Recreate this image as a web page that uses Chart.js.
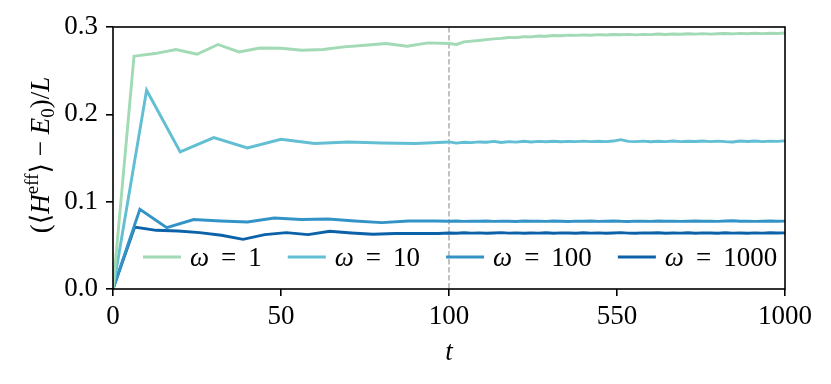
<!DOCTYPE html>
<html>
<head>
<meta charset="utf-8">
<script src="https://cdn.jsdelivr.net/npm/chart.js@4.4.1/dist/chart.umd.min.js"></script>
<style>
  html, body { margin: 0; padding: 0; background: #fff; }
  #wrap { width: 831px; height: 384px; }
</style>
</head>
<body>
<div id="wrap"><canvas id="chart" width="831" height="384"></canvas></div>
<script>
// ===== DATA =====
const legendLabels = ["1", "10", "100", "1000"];
const colors = ["#a1dab4", "#62bed3", "#3393c7", "#0b62a8"];

// early part, t < 100 (own sampling for each omega)
const tEarly1 = [0, 6.25, 12.5, 18.75, 25, 31.25, 37.5, 43.75, 50, 56.25, 62.5, 68.75, 75, 81.25, 87.5, 93.75];
const eEarly1 = [0, 0.2666, 0.2696, 0.2742, 0.2688, 0.2800, 0.2715, 0.2760, 0.2757, 0.2734, 0.2742, 0.2772, 0.2791, 0.2811, 0.2780, 0.2818];

const tEarly10 = [0, 10, 20, 30, 40, 50, 60, 70, 80, 90];
const eEarly10 = [0, 0.2276, 0.1570, 0.1734, 0.1615, 0.1715, 0.1666, 0.1684, 0.1672, 0.1666];

const tEarly100 = [0, 8, 16, 24, 32, 40, 48, 56, 64, 72, 80, 88, 96];
const eEarly100 = [0, 0.0913, 0.0703, 0.0795, 0.0779, 0.0767, 0.0813, 0.0795, 0.0802, 0.0779, 0.0760, 0.0779, 0.0779];

const tEarly1000 = [0, 6.45, 12.9, 19.35, 25.8, 32.25, 38.7, 45.15, 51.6, 58.05, 64.5, 70.95, 77.4, 83.85, 90.3, 96.75];
const eEarly1000 = [0, 0.0710, 0.0672, 0.0664, 0.0646, 0.0615, 0.0569, 0.0623, 0.0646, 0.0623, 0.0661, 0.0642, 0.0627, 0.0635, 0.0635, 0.0635];

// late part, 100 <= t <= 1000
const tLate = [100, 120, 140, 160, 180, 200, 220, 240, 260, 280,
               300, 320, 340, 360, 380, 400, 420, 440, 460, 480,
               500, 520, 540, 560, 580, 600, 620, 640, 660, 680,
               700, 720, 740, 760, 780, 800, 820, 840, 860, 880,
               900, 920, 940, 960, 980, 1000];

const eLate1 = [0.2811, 0.2800, 0.2830, 0.2838, 0.2845, 0.2856, 0.2864, 0.2870, 0.2880, 0.2878,
                0.2889, 0.2887, 0.2897, 0.2894, 0.2902, 0.2900, 0.2907, 0.2904, 0.2910, 0.2906,
                0.2913, 0.2909, 0.2914, 0.2911, 0.2916, 0.2910, 0.2915, 0.2913, 0.2919, 0.2915,
                0.2920, 0.2917, 0.2923, 0.2919, 0.2924, 0.2918, 0.2923, 0.2926, 0.2921, 0.2927,
                0.2923, 0.2928, 0.2924, 0.2929, 0.2926, 0.2931];

const eLate10 = [0.1684, 0.1670, 0.1680, 0.1676, 0.1684, 0.1680, 0.1690, 0.1678, 0.1688, 0.1682,
                 0.1692, 0.1684, 0.1690, 0.1686, 0.1692, 0.1686, 0.1690, 0.1688, 0.1693, 0.1687,
                 0.1691, 0.1688, 0.1694, 0.1710, 0.1690, 0.1688, 0.1693, 0.1686, 0.1692, 0.1688,
                 0.1694, 0.1687, 0.1692, 0.1689, 0.1695, 0.1688, 0.1693, 0.1687, 0.1684, 0.1694,
                 0.1689, 0.1695, 0.1687, 0.1693, 0.1690, 0.1696];

const eLate100 = [0.0775, 0.0778, 0.0774, 0.0777, 0.0775, 0.0779, 0.0774, 0.0777, 0.0776, 0.0773,
                  0.0778, 0.0775, 0.0777, 0.0774, 0.0778, 0.0776, 0.0773, 0.0777, 0.0775, 0.0778,
                  0.0774, 0.0776, 0.0779, 0.0775, 0.0773, 0.0777, 0.0776, 0.0774, 0.0778, 0.0775,
                  0.0777, 0.0774, 0.0776, 0.0779, 0.0775, 0.0777, 0.0774, 0.0778, 0.0782, 0.0775,
                  0.0777, 0.0774, 0.0776, 0.0778, 0.0775, 0.0777];

const eLate1000 = [0.0642, 0.0638, 0.0644, 0.0640, 0.0643, 0.0639, 0.0642, 0.0645, 0.0640, 0.0643,
                   0.0638, 0.0642, 0.0640, 0.0644, 0.0639, 0.0643, 0.0641, 0.0638, 0.0644, 0.0640,
                   0.0643, 0.0639, 0.0642, 0.0645, 0.0640, 0.0638, 0.0643, 0.0641, 0.0644, 0.0639,
                   0.0642, 0.0640, 0.0644, 0.0638, 0.0643, 0.0641, 0.0639, 0.0644, 0.0640, 0.0642,
                   0.0638, 0.0643, 0.0640, 0.0644, 0.0641, 0.0643];

const xTicks = [0, 50, 100, 550, 1000];
const yTicks = [0, 0.1, 0.2, 0.3];
const tBreak = 100;

// ===== BROKEN X AXIS =====
// 0..100 uses the left half, 100..1000 the right half
function warp(t){
    return t <= tBreak ? t : tBreak + (t - tBreak) / 9;
}
function unwarp(u){
    return u <= tBreak ? u : tBreak + (u - tBreak) * 9;
}

function makePoints(tE, eE, eL){
    const pts = [];
    tE.forEach((t, i) => pts.push({ x: warp(t), y: eE[i] }));
    tLate.forEach((t, i) => pts.push({ x: warp(t), y: eL[i] }));
    return pts;
}

const series = [
    makePoints(tEarly1, eEarly1, eLate1),
    makePoints(tEarly10, eEarly10, eLate10),
    makePoints(tEarly100, eEarly100, eLate100),
    makePoints(tEarly1000, eEarly1000, eLate1000)
];

const SERIF = "'Liberation Serif', 'DejaVu Serif', serif";
const FS = 27;

// ===== PLUGIN: frame, dashed line, legend, titles =====
const decor = {
    id: 'decor',
    beforeDatasetsDraw(chart){
        const ctx = chart.ctx, a = chart.chartArea;
        const x = chart.scales.x.getPixelForValue(warp(tBreak));
        ctx.save();
        ctx.strokeStyle = '#b3b3b3';
        ctx.lineWidth = 1.6;
        ctx.setLineDash([5.5, 2.5]);
        ctx.beginPath();
        ctx.moveTo(x, a.top);
        ctx.lineTo(x, a.bottom);
        ctx.stroke();
        ctx.restore();
    },
    afterDatasetsDraw(chart){
        const ctx = chart.ctx, a = chart.chartArea;
        ctx.save();

        // frame
        ctx.strokeStyle = '#000';
        ctx.lineWidth = 1.6;
        ctx.strokeRect(a.left, a.top, a.right - a.left, a.bottom - a.top);

        // legend
        const ly = a.bottom - 32;
        let lx = a.left + 30;
        ctx.textBaseline = 'middle';
        chart.data.datasets.forEach((ds, i) => {
            ctx.strokeStyle = ds.borderColor;
            ctx.lineWidth = 3;
            ctx.beginPath();
            ctx.moveTo(lx, ly);
            ctx.lineTo(lx + 38, ly);
            ctx.stroke();
            lx += 38 + 9;
            ctx.fillStyle = '#000';
            ctx.font = 'italic ' + FS + 'px ' + SERIF;
            ctx.fillText('ω', lx, ly + 2);
            lx += ctx.measureText('ω').width + 12;
            ctx.font = FS + 'px ' + SERIF;
            ctx.fillText('=', lx, ly + 2);
            lx += ctx.measureText('=').width + 12;
            ctx.fillText(legendLabels[i], lx, ly + 2);
            lx += ctx.measureText(legendLabels[i]).width + 26;
        });

        // x title
        ctx.font = 'italic ' + FS + 'px ' + SERIF;
        ctx.textAlign = 'center';
        ctx.fillText('t', (a.left + a.right) / 2, 353);

        // y title, built from pieces
        const parts = [
            ['(⟨', 'n'], ['H', 'i'], ['eff', 'sup'], ['⟩ − ', 'n'],
            ['E', 'i'], ['0', 'sub'], [')/', 'n'], ['L', 'i']
        ];
        const fontFor = k => k === 'i' ? 'italic ' + FS + 'px ' + SERIF
                          : (k === 'sup' || k === 'sub') ? Math.round(FS * 0.7) + 'px ' + SERIF
                          : FS + 'px ' + SERIF;
        let total = 0;
        parts.forEach(p => { ctx.font = fontFor(p[1]); total += ctx.measureText(p[0]).width; });
        ctx.translate(40, 155);
        ctx.rotate(-Math.PI / 2);
        ctx.textAlign = 'left';
        ctx.textBaseline = 'alphabetic';
        let px = -total / 2;
        parts.forEach(p => {
            ctx.font = fontFor(p[1]);
            const dy = p[1] === 'sup' ? -11 : p[1] === 'sub' ? 5 : 0;
            ctx.fillText(p[0], px, 9 + dy);
            px += ctx.measureText(p[0]).width;
        });
        ctx.restore();
    }
};

// ===== CHART =====
new Chart(document.getElementById('chart'), {
    type: 'line',
    data: {
        datasets: series.map((pts, i) => ({
            label: 'ω = ' + legendLabels[i],
            data: pts,
            borderColor: colors[i],
            borderWidth: 2.9,
            pointRadius: 0,
            tension: 0,
            fill: false
        }))
    },
    options: {
        responsive: false,
        animation: false,
        devicePixelRatio: 1,
        layout: { padding: { top: 27, right: 46, left: 0, bottom: 0 } },
        plugins: { legend: { display: false }, tooltip: { enabled: false } },
        scales: {
            x: {
                type: 'linear',
                min: 0,
                max: warp(1000),
                afterBuildTicks: s => { s.ticks = xTicks.map(t => ({ value: warp(t) })); },
                afterFit: s => { s.height = 95; },
                ticks: {
                    callback: v => String(Math.round(unwarp(v))),
                    font: { family: SERIF, size: FS },
                    color: '#000',
                    padding: 5,
                    maxRotation: 0
                },
                grid: { drawOnChartArea: false, drawTicks: true, tickLength: 7, color: '#000', lineWidth: 1.6 },
                border: { display: false }
            },
            y: {
                min: 0,
                max: 0.3,
                afterBuildTicks: s => { s.ticks = yTicks.map(v => ({ value: v })); },
                afterFit: s => { s.width = 113; },
                ticks: {
                    callback: v => v.toFixed(1),
                    font: { family: SERIF, size: FS },
                    color: '#000',
                    padding: 8
                },
                grid: { drawOnChartArea: false, drawTicks: true, tickLength: 7, color: '#000', lineWidth: 1.6 },
                border: { display: false }
            }
        }
    },
    plugins: [decor]
});
</script>
</body>
</html>
